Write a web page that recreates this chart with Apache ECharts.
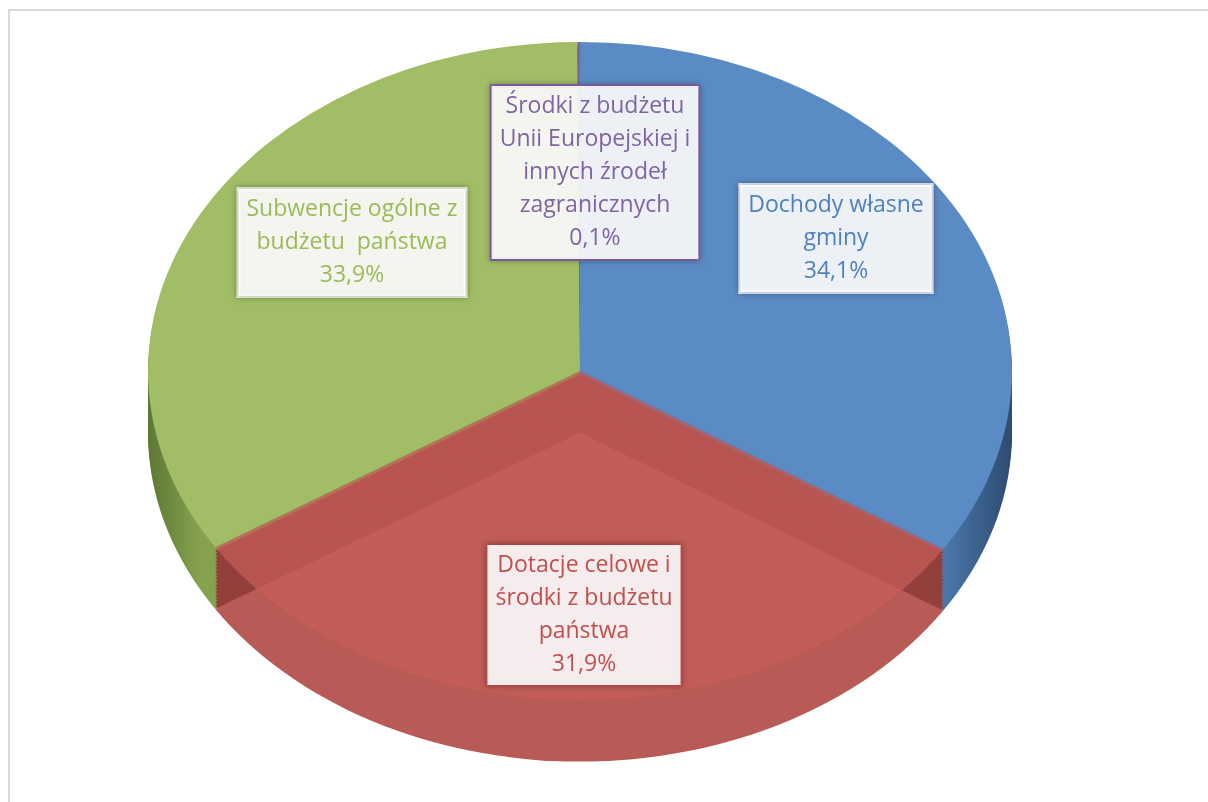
<!DOCTYPE html>
<html lang="pl">
<head>
    <meta charset="UTF-8">
    <title>Struktura dochodów gminy</title>
    <script src="https://cdn.jsdelivr.net/npm/echarts@6/dist/echarts.min.js"></script>
    <style>
        body { margin: 0; background: #fff; overflow: hidden; }
        #frame { position: absolute; left: 8px; top: 9px; width: 1400px; height: 1000px; border: 2px solid #d9d9d9; }
        #pie { position: absolute; left: 0; top: 0; width: 1208px; height: 1010px; transform: scaleY(0.7616); transform-origin: 0 0; }
        #labels { position: absolute; left: 0; top: 0; width: 1208px; height: 802px; }
    </style>
</head>
<body>
<div id="frame"></div>
<div id="pie"></div>
<div id="labels"></div>

<script>
    // dane (kolejność zgodnie z ruchem wskazówek zegara od góry)
    const sliceNames = [
        'Dochody własne gminy',
        'Dotacje celowe i środki z budżetu państwa',
        'Subwencje ogólne z budżetu państwa',
        'Środki z budżetu Unii Europejskiej i innych źrodeł zagranicznych'
    ];
    const sliceValues = [34.1, 31.9, 33.9, 0.1];
    const labelLines = [
        'Dochody własne\ngminy',
        'Dotacje celowe i\nśrodki z budżetu\npaństwa',
        'Subwencje ogólne z\nbudżetu  państwa',
        'Środki z budżetu\nUnii Europejskiej i\ninnych źrodeł\nzagranicznych'
    ];

    // kolory
    const topColors = ['#5b8bc4', 'rgba(200,94,90,0.7)', '#a1bd65', '#8064a2'];
    const textColors = ['#4f81bd', '#c0504d', '#9bbb59', '#8064a2'];
    const borderColors = ['#dfe7f1', '#c0504d', '#e6eedb', '#8064a2'];
    const sideColors = [
        {type: 'linear', x: 0, y: 0, x2: 1, y2: 0, colorStops: [
            {offset: 0, color: '#4a76a8'}, {offset: 0.85, color: '#4a76a8'}, {offset: 1, color: '#2c4b70'}]},
        'rgba(0,0,0,0)',
        {type: 'linear', x: 0, y: 0, x2: 1, y2: 0, colorStops: [
            {offset: 0, color: '#5c7834'}, {offset: 0.12, color: '#86a24f'}, {offset: 1, color: '#86a24f'}]},
        '#6a5088'
    ];
    const redWall = '#93403d';
    const redFloor = '#b85a56';

    // pozycje etykiet (środek x, górna krawędź y)
    const labelX = [836, 584, 352, 595];
    const labelY = [185, 545, 189, 86];

    const cx = 580, cy = 487, r = 432, depth = 81, layers = 18;

    function pieLayer(offset, colors) {
        return {
            type: 'pie',
            center: [cx, cy + offset],
            radius: r,
            startAngle: 90,
            clockwise: true,
            silent: true,
            animation: false,
            label: {show: false},
            labelLine: {show: false},
            itemStyle: {borderWidth: 0},
            data: sliceValues.map((v, i) => ({
                name: sliceNames[i],
                value: v,
                itemStyle: {color: colors[i]}
            }))
        };
    }

    const series = [];
    const none = 'rgba(0,0,0,0)';
    // boki zielony / niebieski / fioletowy
    for (let k = layers; k >= 1; k--) {
        series.push(pieLayer(depth * k / layers, sideColors));
    }
    // wewnętrzne ścianki czerwonego wycinka
    for (let k = 1; k < layers; k++) {
        series.push(pieLayer(depth * k / layers, [none, redWall, none, none]));
    }
    // dno czerwonego wycinka
    series.push(pieLayer(depth, [none, redFloor, none, none]));
    // górna powierzchnia
    series.push(pieLayer(0, topColors));

    const pieChart = echarts.init(document.getElementById('pie'), null, {renderer: 'svg'});
    pieChart.setOption({animation: false, series: series});

    // etykiety
    const labelChart = echarts.init(document.getElementById('labels'));
    const graphics = sliceValues.map((v, i) => ({
        type: 'text',
        x: labelX[i],
        y: labelY[i],
        silent: true,
        style: {
            text: labelLines[i] + '\n' + v.toFixed(1).replace('.', ',') + '%',
            fill: textColors[i],
            font: '23px "Open Sans"',
            align: 'center',
            verticalAlign: 'top',
            lineHeight: 33,
            backgroundColor: 'rgba(255,255,255,0.9)',
            borderColor: borderColors[i],
            borderWidth: 2,
            padding: [4, 8],
            shadowColor: 'rgba(0,0,0,0.25)',
            shadowBlur: 6
        }
    }));
    labelChart.setOption({animation: false, graphic: graphics});
</script>
</body>
</html>
